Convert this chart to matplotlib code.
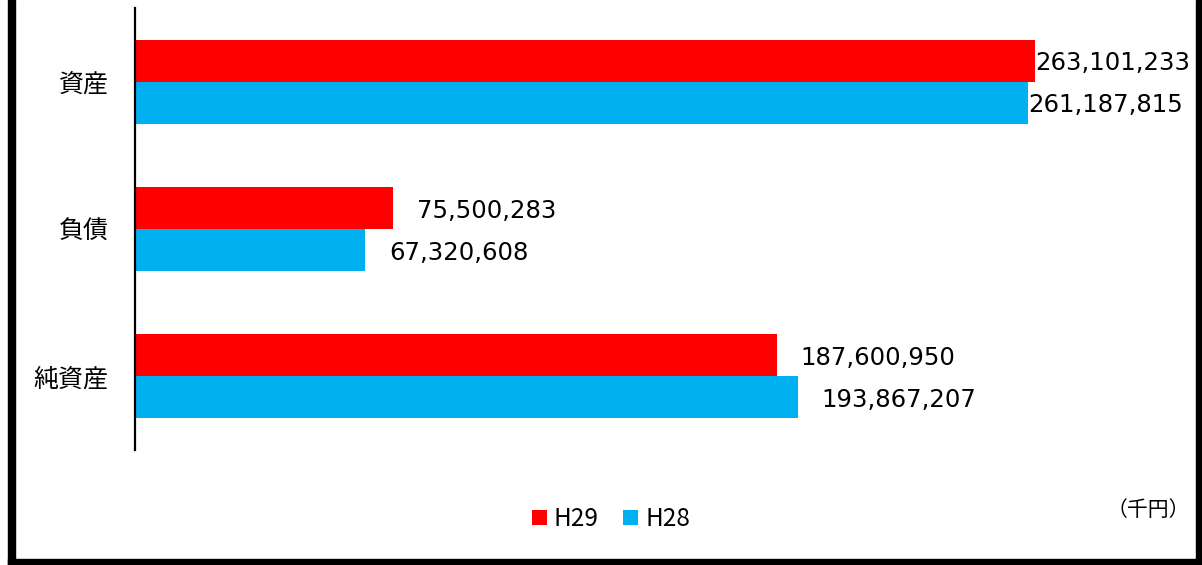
import matplotlib
matplotlib.use("Agg")
import matplotlib.pyplot as plt
from matplotlib.patches import Rectangle
import numpy as np

categories = ["資産", "負債", "純資産"]
series_names = ["H29", "H28"]
h29 = [263101233, 75500283, 187600950]
h28 = [261187815, 67320608, 193867207]
unit_label = "（千円）"

colors = ["#FF0000", "#00B0F0"]
cjk = ["Noto Sans CJK JP", "DejaVu Sans"]

W, H = 1202, 565
fig = plt.figure(figsize=(W / 100, H / 100), dpi=100)
ax = fig.add_axes([135 / W, (H - 450) / H, 1000 / W, 442 / H])

y = np.arange(len(categories))
bh = 0.285
bars1 = ax.barh(y - bh / 2, h29, height=bh, color=colors[0], label=series_names[0])
bars2 = ax.barh(y + bh / 2, h28, height=bh, color=colors[1], label=series_names[1])

xmax = max(h29 + h28) * 1000 / 900
ax.set_xlim(0, xmax)
ax.set_ylim(2.5, -0.5)

for vals, ys in ((h29, y - bh / 2), (h28, y + bh / 2)):
    for v, yy in zip(vals, ys):
        off = 0 if v > 0.85 * max(h29 + h28) else 17
        ax.annotate(f"{v:,}", xy=(v, yy), xytext=(off, -2), textcoords="offset points",
                    ha="left", va="center", fontsize=17.6, family="DejaVu Sans", color="#000000")

ax.set_yticks(y)
ax.set_yticklabels(categories, family=cjk, fontsize=18)
ax.tick_params(axis="y", length=0, pad=19)
ax.set_xticks([])
for s in ("top", "right", "bottom"):
    ax.spines[s].set_visible(False)
ax.spines["left"].set_linewidth(1.6)
ax.spines["left"].set_color("#000000")

leg = fig.legend(handles=[bars1, bars2], labels=series_names, loc="center",
                 bbox_to_anchor=(611 / W, 1 - 519 / H), ncol=2, frameon=False,
                 handlelength=0.6, handleheight=0.6, handletextpad=0.3,
                 columnspacing=1.0, prop={"family": cjk, "size": 17.5})

fig.text(1148 / W, 1 - 510 / H, unit_label, ha="center", va="center",
         family=cjk, fontsize=15)

# outer frame (left, right, bottom)
fig.add_artist(Rectangle((8 / W, 0), 7 / W, 1, transform=fig.transFigure, color="black"))
fig.add_artist(Rectangle((1196 / W, 0), 6 / W, 1, transform=fig.transFigure, color="black"))
fig.add_artist(Rectangle((8 / W, 0), 1 - 8 / W, 6 / H, transform=fig.transFigure, color="black"))

fig.savefig("out.png", dpi=100)
